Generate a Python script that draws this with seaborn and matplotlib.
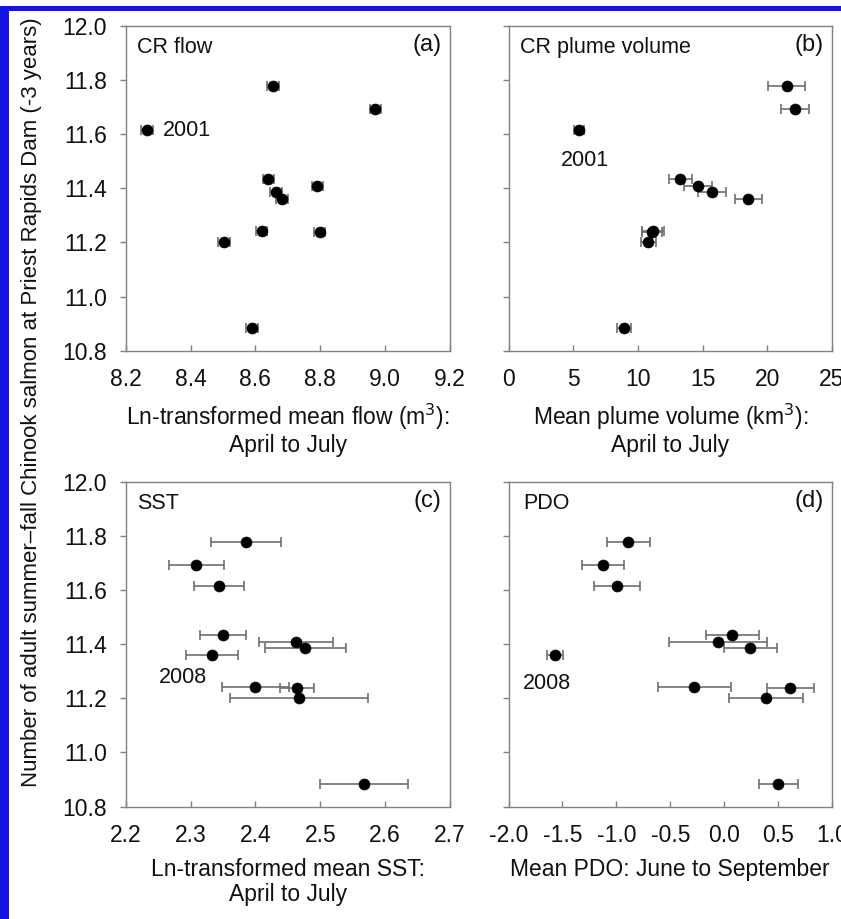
import matplotlib
matplotlib.use("Agg")
import matplotlib.pyplot as plt
import seaborn as sns
import pandas as pd
import numpy as np
from matplotlib.patches import Rectangle
from matplotlib.ticker import FormatStrFormatter

# ---------------- data ----------------
salmon = [11.778, 11.694, 11.615, 11.436, 11.409, 11.385, 11.360, 11.242, 11.240, 11.200, 10.884]

flow = [8.655, 8.970, 8.265, 8.640, 8.791, 8.663, 8.681, 8.619, 8.798, 8.504, 8.590]
flow_err = [0.018, 0.018, 0.018, 0.018, 0.018, 0.018, 0.018, 0.018, 0.018, 0.018, 0.018]

plume = [21.50, 22.15, 5.43, 13.28, 14.63, 15.72, 18.52, 11.16, 11.10, 10.79, 8.93]
plume_err = [1.43, 1.10, 0.39, 0.89, 1.10, 1.10, 1.04, 0.82, 0.80, 0.58, 0.55]

sst = [2.385, 2.309, 2.344, 2.350, 2.462, 2.477, 2.333, 2.400, 2.464, 2.467, 2.567]
sst_err = [0.054, 0.043, 0.039, 0.036, 0.057, 0.062, 0.040, 0.052, 0.026, 0.106, 0.068]

pdo = [-0.891, -1.122, -0.993, 0.077, -0.061, 0.243, -1.568, -0.277, 0.615, 0.385, 0.503]
pdo_err = [0.200, 0.194, 0.215, 0.246, 0.454, 0.247, 0.078, 0.338, 0.215, 0.342, 0.180]

panel_names = ["CR flow", "CR plume volume", "SST", "PDO"]
panel_tags = ["(a)", "(b)", "(c)", "(d)"]
x_labels = ["Ln-transformed mean flow (m$^3$):\nApril to July",
            "Mean plume volume (km$^3$):\nApril to July",
            "Ln-transformed mean SST:\nApril to July",
            "Mean PDO: June to September"]
y_label = "Number of adult summer\u2013fall Chinook salmon at Priest Rapids Dam (-3 years)"

# year annotations: (text, x, y) in data units
year_notes = [("2001", 8.315, 11.615, "left"),
              ("2001", 5.9, 11.504, "center"),
              ("2008", 2.288, 11.277, "center"),
              ("2008", -1.645, 11.254, "center")]

# ---------------- style ----------------
sns.set_theme(style="white")
plt.rcParams["font.family"] = ["Liberation Sans", "DejaVu Sans"]
plt.rcParams["axes.unicode_minus"] = False

W, H = 841, 919
fig = plt.figure(figsize=(W / 100, H / 100), dpi=100)

def fr(left, top, right, bottom):
    return [left / W, 1 - bottom / H, (right - left) / W, (bottom - top) / H]

rects = [fr(125.7, 26, 450, 350.7), fr(508.5, 26, 832, 350.7),
         fr(125.7, 482, 450, 806.5), fr(508.5, 482, 832, 806.5)]

panels = [(flow, flow_err, (8.2, 9.2), np.arange(8.2, 9.21, 0.2), "%.1f"),
          (plume, plume_err, (0, 25), np.arange(0, 26, 5), "%d"),
          (sst, sst_err, (2.2, 2.7), np.arange(2.2, 2.71, 0.1), "%.1f"),
          (pdo, pdo_err, (-2.0, 1.0), np.arange(-2.0, 1.01, 0.5), "%.1f")]

FS = 16.5
spine_col = "#808080"
for i, (xv, xe, xlim, xt, fmt) in enumerate(panels):
    ax = fig.add_axes(rects[i])
    df = pd.DataFrame({"x": xv, "y": salmon, "xerr": xe})
    ax.errorbar(df["x"], df["y"], xerr=df["xerr"], fmt="none", ecolor="#6e6e6e",
                elinewidth=1.2, capsize=3.6, capthick=1.2, zorder=2)
    sns.scatterplot(data=df, x="x", y="y", ax=ax, color="black", s=62,
                    edgecolor="black", linewidth=0.5, zorder=3, legend=False)
    ax.set_xlim(*xlim)
    ax.set_ylim(10.8, 12.0)
    ax.set_xticks(xt)
    ax.set_yticks(np.arange(10.8, 12.01, 0.2))
    ax.xaxis.set_major_formatter(FormatStrFormatter(fmt))
    ax.yaxis.set_major_formatter(FormatStrFormatter("%.1f"))
    for s in ax.spines.values():
        s.set_color(spine_col)
        s.set_linewidth(1.0)
    ax.tick_params(axis="x", direction="in", length=4.5, width=1.0, color=spine_col,
                   pad=12.5, labelsize=FS, labelcolor="#111111", bottom=True)
    ax.tick_params(axis="y", direction="out", length=4.5, width=1.0, color=spine_col,
                   pad=9, labelsize=FS, labelcolor="#111111", left=True)
    if i % 2 == 1:
        ax.set_yticklabels([])
    ax.set_ylabel("")
    ax.set_xlabel(x_labels[i], fontsize=FS, color="#111111", labelpad=8,
                  linespacing=1.1)
    ax.text(0.035 if i != 3 else 0.046, 0.935, panel_names[i], transform=ax.transAxes,
            fontsize=15.5, ha="left", va="center", color="#111111")
    ax.text(0.974, 0.94, panel_tags[i], transform=ax.transAxes,
            fontsize=17, ha="right", va="center", color="#111111")
    t, tx, ty, ha = year_notes[i]
    ax.text(tx, ty, t, fontsize=15.5, ha=ha, va="center", color="#111111")

fig.text(32 / W, 1 - 402 / H, y_label, rotation=90, ha="center", va="center",
         fontsize=16, color="#111111")

# blue frame (left and top edges)
fig.patches.append(Rectangle((0, 0), 9 / W, 1 - 6 / H, transform=fig.transFigure,
                             facecolor="#1414e6", edgecolor="none", zorder=10))
fig.patches.append(Rectangle((0, 1 - 11 / H), 1, 5 / H, transform=fig.transFigure,
                             facecolor="#1414e6", edgecolor="none", zorder=10))

fig.savefig("out.png", dpi=100)
